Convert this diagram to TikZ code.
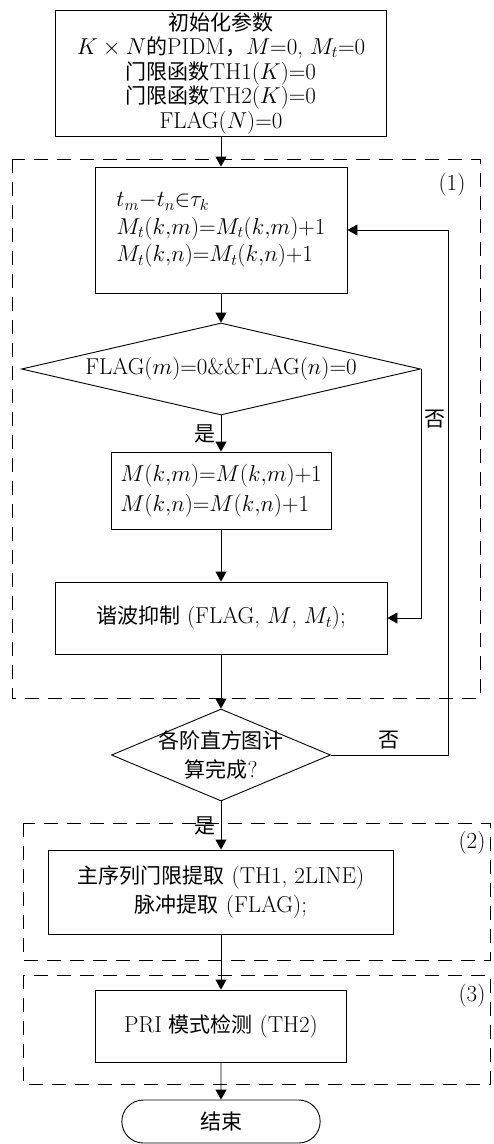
\RequirePackage{fix-cm}
\documentclass[tikz,border=0pt]{standalone}
\usepackage{fontspec}
\newfontfamily\cjk[Scale=0.913]{Noto Sans CJK SC}
\newcommand{\zh}[1]{{\cjk #1}}
\usetikzlibrary{arrows.meta,shapes.geometric,shapes.misc}
\begin{document}
\begin{tikzpicture}[x=1pt,y=-1pt,line width=0.9pt,
  font=\fontsize{23}{24.5}\selectfont,
  box/.style={draw,rectangle,inner sep=0pt,align=center},
  decision/.style={draw,diamond,inner sep=0pt},
  arr/.style={-{Triangle[length=10pt,width=11pt]}},
  group/.style={dash pattern=on 14pt off 9pt},
  tag/.style={inner sep=0pt}]
\useasboundingbox (0,0) rectangle (494,1144);
% dashed groups
\draw[group] (12,159) rectangle (480,698);
\draw[group] (23,823) rectangle (490,960);
\draw[group] (23,975) rectangle (490,1084);
\node[tag] (lab1) at (452,185) {(1)};
\node[tag] (lab2) at (472,843) {(2)};
\node[tag] (lab3) at (472,996) {(3)};
% steps
\node[box,minimum width=331,minimum height=126] (init) at (221,73)
  {\zh{初始化参数}\\
   $K\times N$\zh{的}PIDM\zh{，}$M{=}0$, $M_t{=}0$\\
   \zh{门限函数}TH1$(K){=}0$\\
   \zh{门限函数}TH2$(K){=}0$\\
   FLAG$(N){=}0$};
\node[box,align=left,minimum width=252,minimum height=126] (count) at (221,230)
  {$t_m{-}t_n{\in}\tau_k$\\[3pt]
   $M_t(k{,}m){=}M_t(k{,}m){+}1$\\[3pt]
   $M_t(k{,}n){=}M_t(k{,}n){+}1$};
\node[decision,minimum width=399,minimum height=92,
  label=center:{FLAG$(m){=}0$\&\&FLAG$(n){=}0$}] (flag) at (221,369) {};
\node[box,align=left,minimum width=220,minimum height=77] (inc) at (221,490.5)
  {$M(k{,}m){=}M(k{,}m){+}1$\\[5pt]
   $M(k{,}n){=}M(k{,}n){+}1$};
\node[box,minimum width=332,minimum height=72] (harm) at (221,618)
  {\zh{谐波抑制} (FLAG, $M$, $M_t$);};
\node[decision,minimum width=219,minimum height=92,
  label={[align=center]center:{\zh{各阶直方图计}\\[5pt]\zh{算完成}?}}] (done) at (221,755) {};
\node[box,minimum width=345,minimum height=84] (thr) at (221,892)
  {\zh{主序列门限提取} (TH1, 2LINE)\\[5pt]
   \zh{脉冲提取} (FLAG);};
\node[box,minimum width=251,minimum height=72] (pri) at (221,1026)
  {PRI \zh{模式检测} (TH2)};
\node[draw,rounded rectangle,minimum width=205,minimum height=43] (stop) at (221,1121.5)
  {\zh{结束}};
% flow
\draw[arr] (init) -- (count);
\draw[arr] (count) -- (flag);
\draw[arr] (flag) -- node[left,inner sep=5pt] (yes1) {\zh{是}} (inc);
\draw[arr] (inc) -- (harm);
\draw[arr] (flag.east) |- node[pos=0.1,right,inner sep=3pt] (no1) {\zh{否}} (harm.east);
\draw[arr] (harm) -- (done);
\draw[arr] (done.east) -- node[above,inner sep=5pt] (no2) {\zh{否}} ++(117,0) |- (count.east);
\draw[arr] (done) -- node[left,inner sep=5pt] (yes2) {\zh{是}} (thr);
\draw[arr] (thr) -- (pri);
\draw[arr] (pri) -- (stop);
\end{tikzpicture}
\end{document}
